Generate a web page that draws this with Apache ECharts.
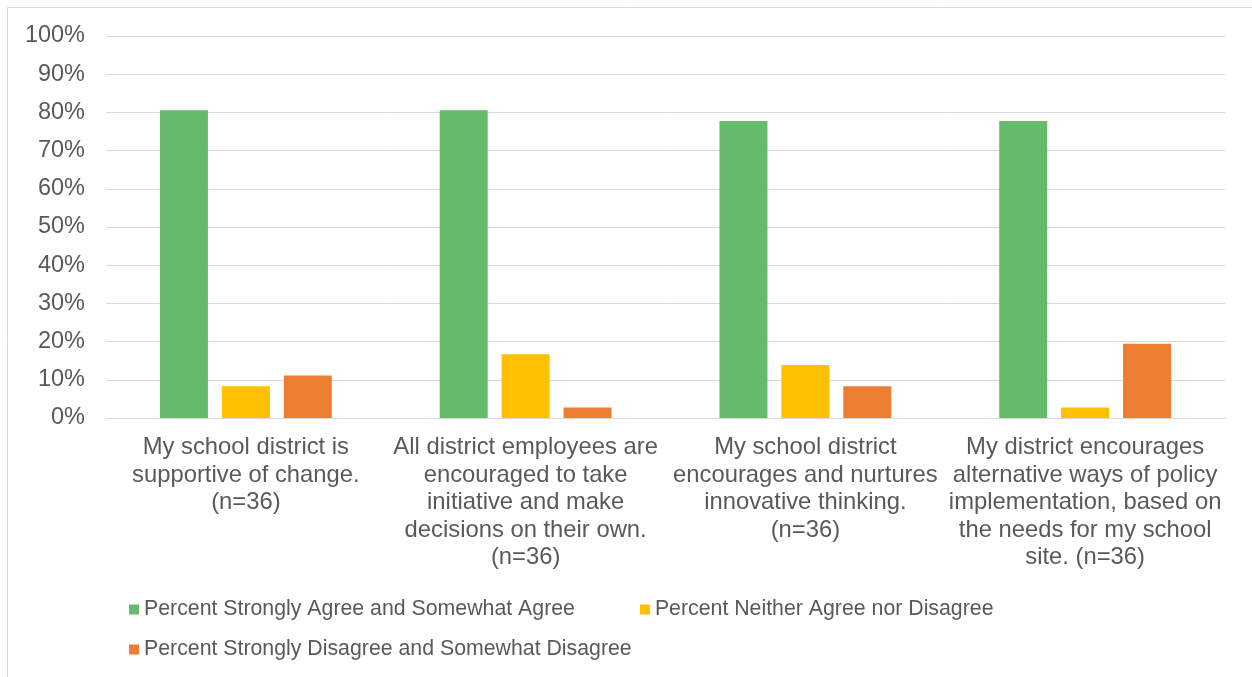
<!DOCTYPE html>
<html>
<head>
<meta charset="utf-8">
<script src="https://cdn.jsdelivr.net/npm/echarts@6/dist/echarts.min.js"></script>
<style>
  html, body { margin: 0; padding: 0; background: #fff; }
  #chart { width: 1252px; height: 677px; }
</style>
</head>
<body>
<div id="chart"></div>
<script>
// Survey statements (line breaks as they wrap under each group)
const categories = [
  'My school district is\nsupportive of change.\n(n=36)',
  'All district employees are\nencouraged to take\ninitiative and make\ndecisions on their own.\n(n=36)',
  'My school district\nencourages and nurtures\ninnovative thinking.\n(n=36)',
  'My district encourages\nalternative ways of policy\nimplementation, based on\nthe needs for my school\nsite. (n=36)'
];

const seriesNames = [
  'Percent Strongly Agree and Somewhat Agree',
  'Percent Neither Agree nor Disagree',
  'Percent Strongly Disagree and Somewhat Disagree'
];

// Percent of respondents (n=36)
const agree = [80.56, 80.56, 77.78, 77.78];
const neutral = [8.33, 16.67, 13.89, 2.78];
const disagree = [11.11, 2.78, 8.33, 19.44];

const colors = ['#66BB6A', '#FFC000', '#ED7D31'];
const values = [agree, neutral, disagree];

const chart = echarts.init(document.getElementById('chart'));
const textColor = '#595959';
const font = 'Liberation Sans, Arial, sans-serif';

const legendBase = {
  left: 124,
  itemWidth: 10,
  itemHeight: 10,
  itemGap: 65,
  icon: 'rect',
  textStyle: { color: textColor, fontSize: 21.3, fontFamily: font }
};

chart.setOption({
  animation: false,
  color: colors,
  graphic: [{
    type: 'rect',
    shape: { x: 7.5, y: 7.5, width: 1300, height: 700 },
    style: { fill: 'none', stroke: '#D9D9D9', lineWidth: 1 },
    silent: true
  }],
  grid: { left: 106, right: 27, top: 36, bottom: 259 },
  legend: [
    Object.assign({ top: 594, data: seriesNames.slice(0, 2) }, legendBase),
    Object.assign({ top: 634, data: seriesNames.slice(2) }, legendBase)
  ],
  xAxis: {
    type: 'category',
    data: categories,
    axisLine: { lineStyle: { color: '#D9D9D9' } },
    axisTick: { show: false },
    axisLabel: {
      color: textColor, fontSize: 23.8, fontFamily: font,
      lineHeight: 27.5, margin: 16, interval: 0
    }
  },
  yAxis: {
    type: 'value',
    min: 0,
    max: 100,
    interval: 10,
    axisLine: { show: false },
    axisTick: { show: false },
    splitLine: { lineStyle: { color: '#D9D9D9' } },
    axisLabel: {
      color: textColor, fontSize: 23.5, fontFamily: font, margin: 21,
      padding: [4, 0, 0, 0],
      formatter: v => v + '%'
    }
  },
  series: seriesNames.map((name, i) => ({
    name,
    type: 'bar',
    data: values[i],
    barWidth: 48,
    barGap: '29%',
    itemStyle: { color: colors[i] }
  }))
});
</script>
</body>
</html>
